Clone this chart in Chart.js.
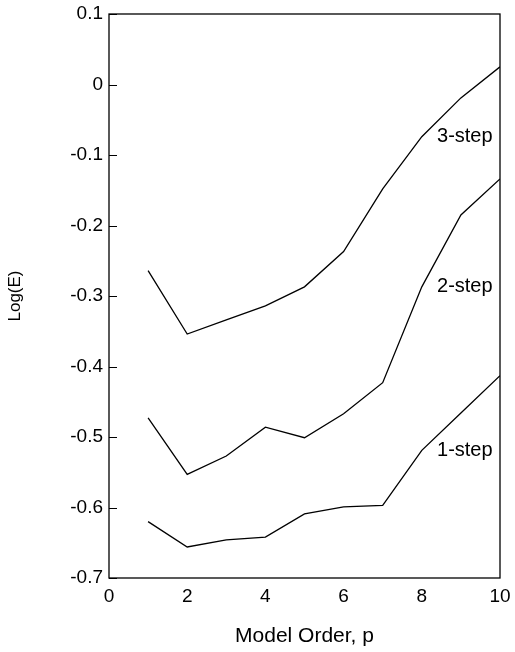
<!DOCTYPE html>
<html>
<head>
<meta charset="utf-8">
<script src="https://cdn.jsdelivr.net/npm/chart.js@4"></script>
<style>
  html, body { margin: 0; padding: 0; background: #fff; }
  #wrap { width: 515px; height: 652px; }
</style>
</head>
<body>
<div id="wrap"><canvas id="dataChart" width="515" height="652"></canvas></div>
<script>
// ---- data ----
const modelOrder = [1, 2, 3, 4, 5, 6, 7, 8, 9, 10];
const step1 = [-0.620, -0.656, -0.646, -0.642, -0.609, -0.599, -0.597, -0.519, -0.466, -0.413];
const step2 = [-0.473, -0.553, -0.527, -0.486, -0.501, -0.467, -0.423, -0.287, -0.185, -0.134];
const step3 = [-0.264, -0.354, -0.334, -0.314, -0.287, -0.237, -0.148, -0.074, -0.019, 0.025];
const seriesNames = ["1-step", "2-step", "3-step"];
const xTickLabels = ["0", "2", "4", "6", "8", "10"];
const yTickLabels = ["-0.7", "-0.6", "-0.5", "-0.4", "-0.3", "-0.2", "-0.1", "0", "0.1"];

const FONT = "'Liberation Sans', Arial, Helvetica, sans-serif";

function toPoints(ys) {
  return modelOrder.map((x, i) => ({ x: x, y: ys[i] }));
}

// frame box + inward y ticks
const framePlugin = {
  id: "frame",
  afterDraw(chart) {
    const { ctx, chartArea: a, scales } = chart;
    ctx.save();
    ctx.strokeStyle = "#000";
    ctx.lineWidth = 1.3;
    ctx.strokeRect(a.left, a.top, a.right - a.left, a.bottom - a.top);
    ctx.lineWidth = 1;
    scales.y.ticks.forEach(t => {
      const py = Math.round(scales.y.getPixelForValue(t.value)) + 0.5;
      ctx.beginPath();
      ctx.moveTo(a.left, py);
      ctx.lineTo(a.left + 8, py);
      ctx.stroke();
    });
    ctx.restore();
  }
};

// series name next to each curve, anchored in data space
const seriesLabelPlugin = {
  id: "seriesLabels",
  afterDatasetsDraw(chart) {
    const { ctx, scales } = chart;
    ctx.save();
    ctx.fillStyle = "#000";
    ctx.font = "20px " + FONT;
    ctx.textAlign = "center";
    ctx.textBaseline = "middle";
    chart.data.datasets.forEach(ds => {
      const yAt8 = ds.data[7].y;
      const px = scales.x.getPixelForValue(9.1);
      const py = scales.y.getPixelForValue(yAt8);
      ctx.fillText(ds.label, px, py);
    });
    ctx.restore();
  }
};

function initChart() {
  const ctx = document.getElementById("dataChart").getContext("2d");
  const allSeries = [step1, step2, step3];
  new Chart(ctx, {
    type: "line",
    data: {
      datasets: allSeries.map((s, i) => ({
        label: seriesNames[i],
        data: toPoints(s),
        borderColor: "#000",
        borderWidth: 1.3,
        pointRadius: 0,
        tension: 0,
        fill: false
      }))
    },
    options: {
      responsive: false,
      animation: false,
      layout: { padding: { left: 0, top: 14, right: 15, bottom: 0 } },
      plugins: { legend: { display: false }, tooltip: { enabled: false } },
      scales: {
        x: {
          type: "linear",
          min: 0,
          max: 10,
          grid: { drawOnChartArea: false, drawTicks: false },
          border: { display: false },
          ticks: {
            stepSize: 2,
            padding: 7,
            color: "#000",
            font: { family: FONT, size: 19 },
            callback: (v, i) => xTickLabels[i]
          },
          title: {
            display: true,
            text: "Model Order, p",
            color: "#000",
            font: { family: FONT, size: 21 },
            padding: { top: 4, bottom: 3 }
          },
          afterFit: s => { s.height = 74; s.paddingLeft = 0; s.paddingRight = 0; }
        },
        y: {
          type: "linear",
          min: -0.7,
          max: 0.1,
          grid: { drawOnChartArea: false, drawTicks: false },
          border: { display: false },
          ticks: {
            stepSize: 0.1,
            padding: 6,
            color: "#000",
            font: { family: FONT, size: 19 },
            callback: (v, i) => yTickLabels[i]
          },
          title: {
            display: true,
            text: "Log(E)",
            color: "#000",
            font: { family: FONT, size: 17 },
            padding: { top: 5, bottom: 4 }
          },
          afterFit: s => { s.width = 109; s.paddingTop = 0; s.paddingBottom = 0; }
        }
      }
    },
    plugins: [framePlugin, seriesLabelPlugin]
  });
}

document.addEventListener("DOMContentLoaded", () => {
  initChart();
});
</script>
</body>
</html>
